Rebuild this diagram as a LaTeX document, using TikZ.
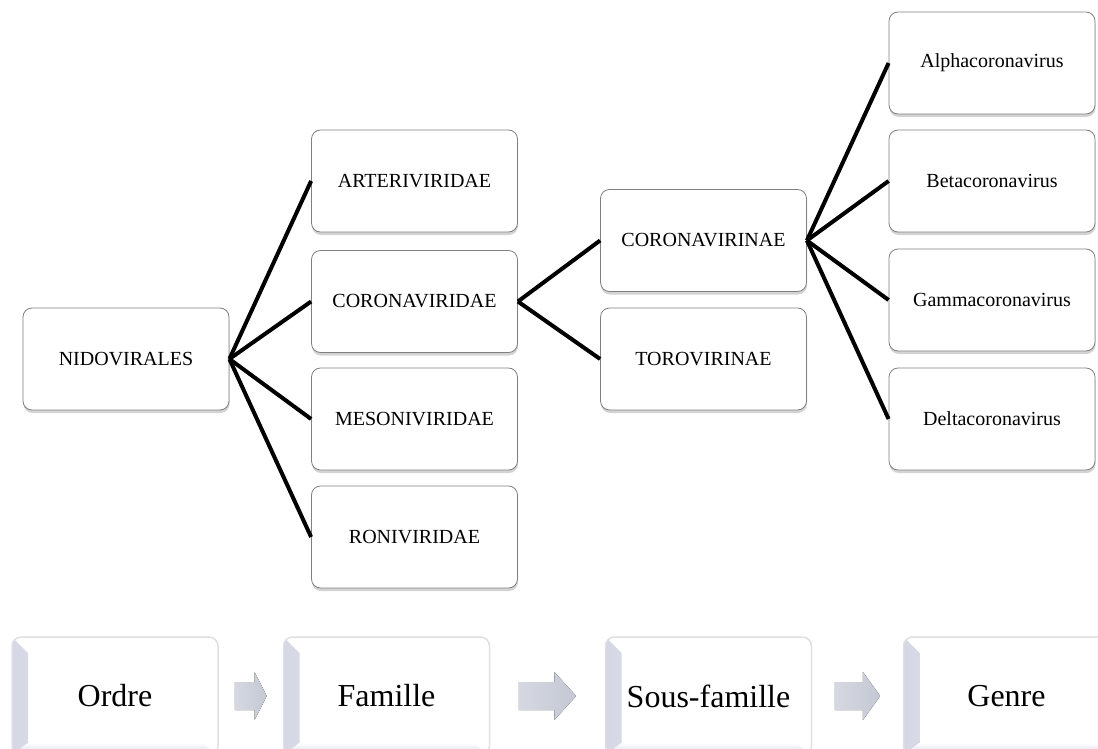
\documentclass[tikz,border=0pt]{standalone}
\usepackage{fontspec}
\setmainfont{Liberation Serif}
\usepackage{tikz}
\usepackage{xcolor}
\usetikzlibrary{shadows}

\definecolor{bevel}{RGB}{212,215,228}
\definecolor{arrowgray}{RGB}{196,200,212}

\begin{document}
\begin{tikzpicture}[x=1pt,y=-1pt,line join=round,
  taxon/.style={draw=black!50,line width=0.8pt,fill=white,rounded corners=9pt,
    minimum width=206pt,minimum height=102pt,inner sep=0pt,
    font=\fontsize{20}{24}\selectfont,
    drop shadow={shadow xshift=0.5pt,shadow yshift=-3pt,opacity=.35}},
  rang/.style={draw=black!12,line width=1.5pt,fill=white,rounded corners=9pt,
    minimum width=206pt,minimum height=118pt,inner sep=0pt,
    font=\fontsize{32}{38}\selectfont,
    path picture={
      \fill[sharp corners,left color=bevel,right color=white]
        (path picture bounding box.south west) -- (path picture bounding box.north west)
        -- ([shift={(16pt,-16pt)}]path picture bounding box.north west)
        -- ([shift={(16pt,12pt)}]path picture bounding box.south west) -- cycle;
      \fill[sharp corners,top color=white,bottom color=bevel]
        (path picture bounding box.south west) -- (path picture bounding box.south east)
        -- ([shift={(-16pt,12pt)}]path picture bounding box.south east)
        -- ([shift={(16pt,12pt)}]path picture bounding box.south west) -- cycle;
    }},
  link/.style={line width=4pt,line cap=butt,black},
  fleche/.style={left color=arrowgray!70,right color=arrowgray}]
\useasboundingbox (0,0) rectangle (1098,749);

% arbre
\node[taxon] (nido) at (126,359) {NIDOVIRALES};

\node[taxon] (arteri) at (414.5,181) {ARTERIVIRIDAE};
\node[taxon] (coronafam) at (414.5,301.5) {CORONAVIRIDAE};
\node[taxon] (mesoni) at (414.5,419) {MESONIVIRIDAE};
\node[taxon] (roni) at (414.5,537) {RONIVIRIDAE};

\node[taxon] (coronasub) at (703.5,240.5) {CORONAVIRINAE};
\node[taxon] (toro) at (703.5,359) {TOROVIRINAE};

\node[taxon] (alpha) at (992,63) {Alphacoronavirus};
\node[taxon] (beta) at (992,181) {Betacoronavirus};
\node[taxon] (gamma) at (992,300) {Gammacoronavirus};
\node[taxon] (delta) at (992,419) {Deltacoronavirus};

\foreach \t in {arteri,coronafam,mesoni,roni}
  \draw[link] (nido.east) -- (\t.west);
\foreach \t in {coronasub,toro}
  \draw[link] (coronafam.east) -- (\t.west);
\foreach \t in {alpha,beta,gamma,delta}
  \draw[link] (coronasub.east) -- (\t.west);

% rangs
\node[rang] (ordre) at (115,696) {Ordre};
\node[rang] (famille) at (386.5,696) {Famille};
\node[rang] (sousfam) at (708.5,696) {Sous-famille};
\node[rang] (genre) at (1006.5,696) {Genre};

\foreach \a/\b in {ordre/famille,famille/sousfam,sousfam/genre} {
  \path (\a.east) -- (\b.west)
    coordinate[pos=.25] (tail) coordinate[pos=.56] (neck) coordinate[pos=.75] (tip);
  \fill[fleche] ([yshift=-14pt]tail) -- ([yshift=-14pt]neck) -- ([yshift=-24pt]neck)
    -- (tip) -- ([yshift=24pt]neck) -- ([yshift=14pt]neck) -- ([yshift=14pt]tail) -- cycle;
}
\end{tikzpicture}
\end{document}
